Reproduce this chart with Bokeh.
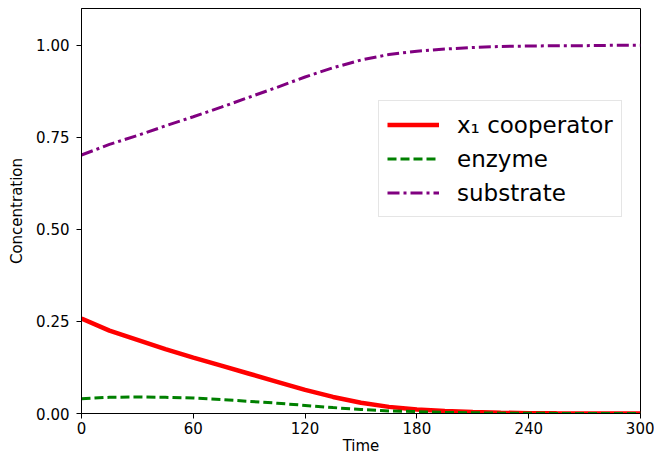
from bokeh.plotting import figure
from bokeh.models import Range1d, FixedTicker, PrintfTickFormatter
from bokeh.embed import file_html
from bokeh.resources import INLINE

# Data
time = [0, 15, 30, 45, 60, 75, 90, 105, 120, 135, 150, 165, 180, 195, 210,
        225, 240, 255, 270, 285, 300]
cooperator = [0.258, 0.225, 0.200, 0.175, 0.152, 0.130, 0.108, 0.086, 0.064,
              0.045, 0.029, 0.018, 0.011, 0.007, 0.004, 0.002, 0.001, 0.0006,
              0.0003, 0.0002, 0.0001]
enzyme = [0.040, 0.044, 0.045, 0.044, 0.042, 0.038, 0.033, 0.028, 0.022,
          0.016, 0.011, 0.007, 0.005, 0.003, 0.002, 0.001, 0.0006, 0.0003,
          0.0002, 0.0001, 0.0]
substrate = [0.702, 0.731, 0.755, 0.781, 0.806, 0.832, 0.859, 0.886, 0.914,
             0.939, 0.960, 0.975, 0.984, 0.990, 0.994, 0.997, 0.998, 0.999,
             0.999, 1.0, 1.0]
x_ticks = [0, 60, 120, 180, 240, 300]
y_ticks = [0.0, 0.25, 0.5, 0.75, 1.0]

FONT = "DejaVu Sans"

p = figure(width=654, height=457, output_backend="svg", toolbar_location=None,
           x_range=Range1d(0, 300), y_range=Range1d(0, 1.1),
           min_border_left=81, min_border_right=14, min_border_top=8,
           min_border_bottom=0)

p.line(time, cooperator, color="red", line_width=4.5, legend_label="x₁ cooperator")
p.line(time, enzyme, color="green", line_width=3, line_dash="9 4", legend_label="enzyme")
p.line(time, substrate, color="purple", line_width=3, line_dash="12 4 3 4",
       legend_label="substrate")

p.grid.visible = False
p.outline_line_color = "black"
p.outline_line_width = 1

for ax in (p.xaxis[0], p.yaxis[0]):
    ax.major_label_text_font = FONT
    ax.major_label_text_font_size = "15px"
    ax.major_label_text_color = "black"
    ax.axis_label_text_font = FONT
    ax.axis_label_text_font_size = "15px"
    ax.axis_label_text_font_style = "normal"
    ax.axis_label_text_color = "black"
    ax.major_tick_out = 5
    ax.major_tick_in = 0
    ax.minor_tick_out = 0
    ax.minor_tick_in = 0
    ax.axis_line_color = "black"
    ax.major_tick_line_color = "black"

p.xaxis.ticker = FixedTicker(ticks=x_ticks)
p.yaxis.ticker = FixedTicker(ticks=y_ticks)
p.yaxis.formatter = PrintfTickFormatter(format="%.2f")
p.xaxis.axis_label = "Time"
p.yaxis.axis_label = "Concentration"
p.xaxis.major_label_standoff = 3
p.yaxis.major_label_standoff = 7
p.xaxis.axis_label_standoff = 0
p.yaxis.axis_label_standoff = 7

lg = p.legend[0]
lg.location = (297, 196)
lg.label_text_font = FONT
lg.label_text_font_size = "23px"
lg.label_text_color = "black"
lg.glyph_width = 52
lg.glyph_height = 31
lg.label_height = 31
lg.spacing = 3
lg.padding = 8
lg.margin = 0
lg.label_standoff = 18
lg.border_line_color = "#cccccc"
lg.border_line_width = 1
lg.background_fill_color = "white"
lg.background_fill_alpha = 0.8

open("out.html", "w").write(file_html(p, INLINE))
